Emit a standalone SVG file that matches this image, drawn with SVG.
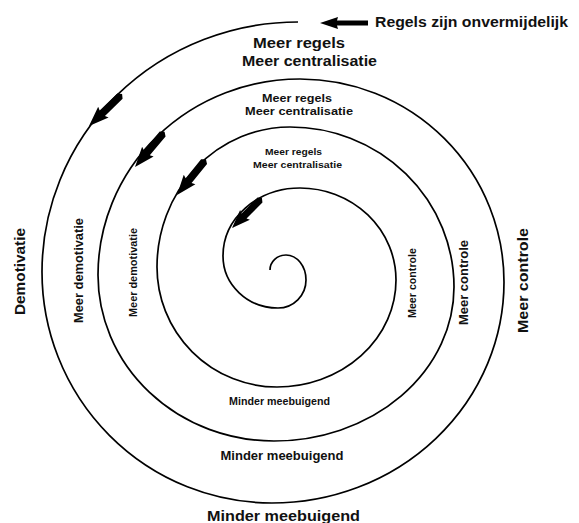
<svg xmlns="http://www.w3.org/2000/svg" width="579" height="523" viewBox="0 0 579 523">
<style>
text{font-family:"Liberation Sans",Arial,sans-serif;font-weight:bold;fill:#111}
.sp{fill:none;stroke:#000;stroke-width:1.7}
.ar{fill:#000}
</style>
<defs>
<polygon id="blk" points="0,0 -18,-6 -17,-2.6 -48,-2.6 -48,2.6 -17,2.6 -18,6"/>
<polygon id="sarr" points="0,0 -20,-7.5 -18.5,-3.8 -43,-3.8 -46,0 -43,3.8 -18.5,3.8 -20,7.5"/>
</defs>
<rect width="579" height="523" fill="#fff"/>
<g id="connectors">
<path id="spiral" class="sp" d="M 298 22 A 256 250 0 0 0 42 272 A 230 231 0 0 0 272 503 A 232 221 0 0 0 504 282 A 204 203 0 0 0 300 79 A 202 196 0 0 0 98 275 A 176 166 0 0 0 274 441 A 180 154 0 0 0 454 287 A 164 160 0 0 0 290 127 A 133 140 0 0 0 157 267 A 120 120 0 0 0 277 387 A 119 107 0 0 0 396 280 A 96 92 0 0 0 300 188 A 77 68 0 0 0 223 256 A 55 52 0 0 0 278 308 A 28 28 0 0 0 306 280 A 20 25 0 0 0 286 255 A 16 15 0 0 0 270 270"/>
<use href="#blk" class="ar" transform="translate(320,23) rotate(180)"/>
<use href="#sarr" class="ar" transform="translate(89,126) rotate(136)"/>
<use href="#sarr" class="ar" transform="translate(135,167) rotate(130)"/>
<use href="#sarr" class="ar" transform="translate(177,195) rotate(129)"/>
<use href="#sarr" class="ar" transform="translate(232,228) rotate(135) scale(0.92)"/>
</g>
<g id="regels-onvermijdelijk"><text x="375" y="27" font-size="14" textLength="193" lengthAdjust="spacingAndGlyphs">Regels zijn onvermijdelijk</text></g>
<g id="top-1">
<text x="299" y="47.5" font-size="14.5" text-anchor="middle" textLength="92" lengthAdjust="spacingAndGlyphs">Meer regels</text>
<text x="309.5" y="65.5" font-size="14.5" text-anchor="middle" textLength="135" lengthAdjust="spacingAndGlyphs">Meer centralisatie</text>
</g>
<g id="top-2">
<text x="297" y="101.5" font-size="11" text-anchor="middle" textLength="70" lengthAdjust="spacingAndGlyphs">Meer regels</text>
<text x="299" y="115" font-size="11" text-anchor="middle" textLength="108" lengthAdjust="spacingAndGlyphs">Meer centralisatie</text>
</g>
<g id="top-3">
<text x="293.5" y="155" font-size="9.5" text-anchor="middle" textLength="57" lengthAdjust="spacingAndGlyphs">Meer regels</text>
<text x="297.5" y="168" font-size="9.5" text-anchor="middle" textLength="89" lengthAdjust="spacingAndGlyphs">Meer centralisatie</text>
</g>
<g id="left-1"><text transform="translate(25,271.5) rotate(-90)" font-size="14" text-anchor="middle" textLength="87" lengthAdjust="spacingAndGlyphs">Demotivatie</text></g>
<g id="left-2"><text transform="translate(83,270.5) rotate(-90)" font-size="12.5" text-anchor="middle" textLength="105" lengthAdjust="spacingAndGlyphs">Meer demotivatie</text></g>
<g id="left-3"><text transform="translate(137,272.5) rotate(-90)" font-size="11" text-anchor="middle" textLength="89" lengthAdjust="spacingAndGlyphs">Meer demotivatie</text></g>
<g id="right-1"><text transform="translate(528,280.5) rotate(-90)" font-size="15" text-anchor="middle" textLength="105" lengthAdjust="spacingAndGlyphs">Meer controle</text></g>
<g id="right-2"><text transform="translate(468,282.5) rotate(-90)" font-size="13" text-anchor="middle" textLength="85" lengthAdjust="spacingAndGlyphs">Meer controle</text></g>
<g id="right-3"><text transform="translate(416,283) rotate(-90)" font-size="10.5" text-anchor="middle" textLength="70" lengthAdjust="spacingAndGlyphs">Meer controle</text></g>
<g id="bottom-3"><text x="279.5" y="405" font-size="11" text-anchor="middle" textLength="101" lengthAdjust="spacingAndGlyphs">Minder meebuigend</text></g>
<g id="bottom-2"><text x="282" y="459.5" font-size="12" text-anchor="middle" textLength="123" lengthAdjust="spacingAndGlyphs">Minder meebuigend</text></g>
<g id="bottom-1"><text x="283.5" y="520.5" font-size="14" text-anchor="middle" textLength="153" lengthAdjust="spacingAndGlyphs">Minder meebuigend</text></g>
</svg>
